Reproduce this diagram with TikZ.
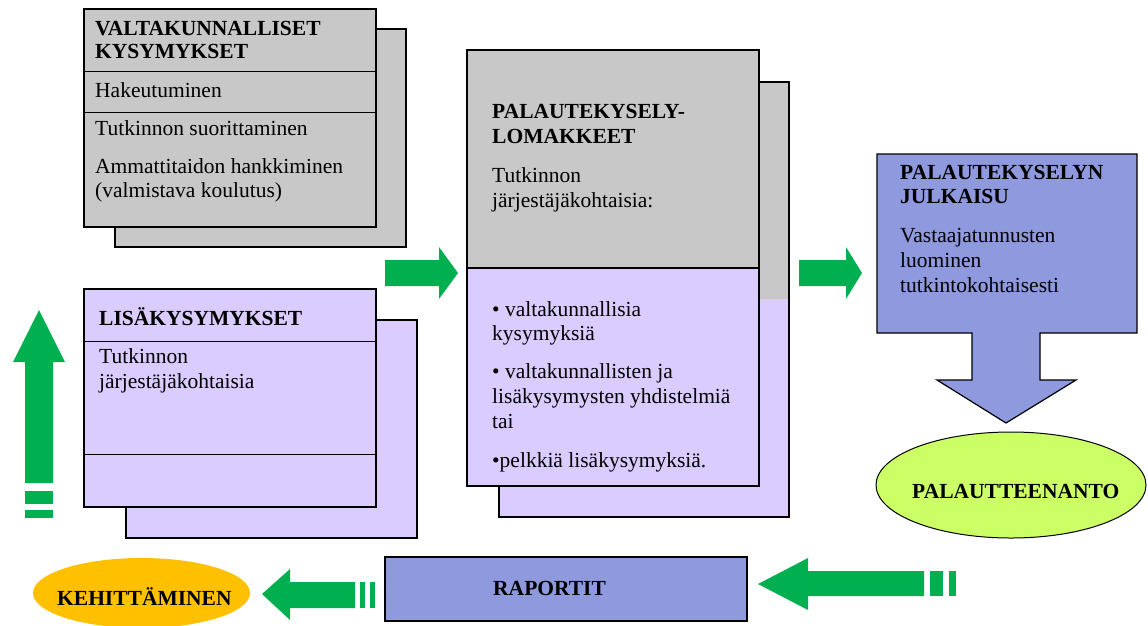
\documentclass[tikz,border=0pt]{standalone}
\usepackage{fontspec}
\setmainfont{Liberation Serif}
\usetikzlibrary{shapes.geometric}
\definecolor{boxgrey}{HTML}{C8C8C8}
\definecolor{lilac}{HTML}{DACCFF}
\definecolor{boxblue}{HTML}{8F99DD}
\definecolor{arrowgreen}{HTML}{00B050}
\definecolor{lime}{HTML}{CCFF66}
\definecolor{amber}{HTML}{FFC000}
\begin{document}
\begin{tikzpicture}[x=1pt,y=-1pt,
  box/.style={draw=black,line width=1.5pt,rectangle,inner sep=0pt,outer sep=0pt},
  txt/.style={anchor=base west,inner sep=0pt,font=\fontsize{21.5}{24}\selectfont},
  ttl/.style={anchor=base west,inner sep=0pt,font=\fontsize{21.5}{24}\selectfont\bfseries},
  divider/.style={line width=0.9pt},
  garrow/.style={fill=arrowgreen,draw=none}]
\useasboundingbox (0,0) rectangle (1148,625);

% ---------- top-left: VALTAKUNNALLISET KYSYMYKSET ----------
\node[box,fill=boxgrey,minimum width=291,minimum height=218] (vkback) at (260.5,138) {};
\node[box,fill=boxgrey,minimum width=292,minimum height=218] (vk) at (230,118) {};
\draw[divider] (vk.west |- 0,71) -- (vk.east |- 0,71);
\draw[divider] (vk.west |- 0,112) -- (vk.east |- 0,112);
\node[ttl] (vk1) at (95,35) {VALTAKUNNALLISET};
\node[ttl] (vk2) at (95,58) {KYSYMYKSET};
\node[txt] (vk3) at (95,97) {Hakeutuminen};
\node[txt] (vk4) at (95,135) {Tutkinnon suorittaminen};
\node[txt] (vk5) at (95,173) {Ammattitaidon hankkiminen};
\node[txt] (vk6) at (95,197) {(valmistava koulutus)};

% ---------- LISÄKYSYMYKSET ----------
\node[box,fill=lilac,minimum width=291,minimum height=218] (lkback) at (271.5,429) {};
\node[box,fill=lilac,minimum width=292,minimum height=218] (lk) at (230,398) {};
\draw[divider] (lk.west |- 0,341) -- (lk.east |- 0,341);
\draw[divider] (lk.west |- 0,454) -- (lk.east |- 0,454);
\node[ttl] (lk1) at (99,325) {LISÄKYSYMYKSET};
\node[txt] (lk2) at (99,363) {Tutkinnon};
\node[txt] (lk3) at (99,388) {järjestäjäkohtaisia};

% ---------- middle: PALAUTEKYSELYLOMAKKEET ----------
\node[box,fill=lilac,minimum width=290,minimum height=435,
  path picture={\fill[boxgrey] ([yshift=2pt]path picture bounding box.north west) rectangle ([yshift=-217pt]path picture bounding box.north east);}]
  (mback) at (644,299.5) {};
\node[box,fill=lilac,minimum width=292,minimum height=436,
  path picture={\fill[boxgrey] ([yshift=2pt]path picture bounding box.north west) rectangle ([yshift=-218pt]path picture bounding box.north east);}]
  (mid) at (613,268) {};
\draw[line width=1.5pt] (mid.west |- 0,268) -- (mid.east |- 0,268);
\node[ttl] (m1) at (492,118) {PALAUTEKYSELY-};
\node[ttl] (m2) at (492,143) {LOMAKKEET};
\node[txt] (m3) at (492,182) {Tutkinnon};
\node[txt] (m4) at (492,207) {järjestäjäkohtaisia:};
\node[txt] (m5) at (492,316) {• valtakunnallisia};
\node[txt] (m6) at (492,340) {kysymyksiä};
\node[txt] (m7) at (492,378) {• valtakunnallisten ja};
\node[txt] (m8) at (492,403) {lisäkysymysten yhdistelmiä};
\node[txt] (m9) at (492,428) {tai};
\node[txt] (m10) at (492,467) {•pelkkiä lisäkysymyksiä.};

% ---------- right: PALAUTEKYSELYN JULKAISU (down-arrow callout) ----------
\draw[fill=boxblue,draw=black,line width=1.2pt,line join=miter]
  (877,154) -- (1137,154) -- (1137,333) -- (1040,333) -- (1040,380) -- (1076,380)
  -- (1006,423) -- (937,380) -- (972,380) -- (972,333) -- (877,333) -- cycle;
\coordinate (julk) at (1007,243);
\node[ttl] (j1) at (900,179) {PALAUTEKYSELYN};
\node[ttl] (j2) at (900,203) {JULKAISU};
\node[txt] (j3) at (900,242) {Vastaajatunnusten};
\node[txt] (j4) at (900,267) {luominen};
\node[txt] (j5) at (900,292) {tutkintokohtaisesti};

% ---------- PALAUTTEENANTO ----------
\node[ellipse,draw=black,line width=1pt,fill=lime,minimum width=270,minimum height=106,inner sep=0pt] (pal) at (1011,485) {};
\node[ttl] (palt) at (912,498) {PALAUTTEENANTO};

% ---------- RAPORTIT ----------
\node[box,line width=2pt,fill=boxblue,minimum width=362,minimum height=64] (rap) at (566,589) {};
\node[ttl] (rapt) at (493,595) {RAPORTIT};

% ---------- KEHITTÄMINEN ----------
\node[ellipse,fill=amber,draw=none,minimum width=217,minimum height=70,inner sep=0pt] (keh) at (141.5,593) {};
\node[ttl] (keht) at (57,605) {KEHITTÄMINEN};

% ---------- green block arrows ----------
% into the middle box
\fill[garrow] (385,260) -- (439,260) -- (439,247) -- (458,273) -- (439,299) -- (439,286) -- (385,286) -- cycle;
% into the publishing box
\fill[garrow] (799,260) -- (846,260) -- (846,247) -- (862,273) -- (846,299) -- (846,286) -- (799,286) -- cycle;
% up arrow on the left
\fill[garrow] (25,483) -- (25,362) -- (13,362) -- (39,310) -- (65,362) -- (53,362) -- (53,483) -- cycle;
\fill[garrow] (25,491) rectangle (53,504);
\fill[garrow] (25,510) rectangle (53,518);
% RAPORTIT -> KEHITTÄMINEN
\fill[garrow] (355,582) -- (290,582) -- (290,569) -- (262,594) -- (290,620) -- (290,608) -- (355,608) -- cycle;
\fill[garrow] (360,582) rectangle (365,608);
\fill[garrow] (370,582) rectangle (375,608);
% into RAPORTIT
\fill[garrow] (924,571) -- (808,571) -- (808,558) -- (758,584) -- (808,610) -- (808,596) -- (924,596) -- cycle;
\fill[garrow] (930,571) rectangle (943,596);
\fill[garrow] (949,571) rectangle (956,596);
\end{tikzpicture}
\end{document}
